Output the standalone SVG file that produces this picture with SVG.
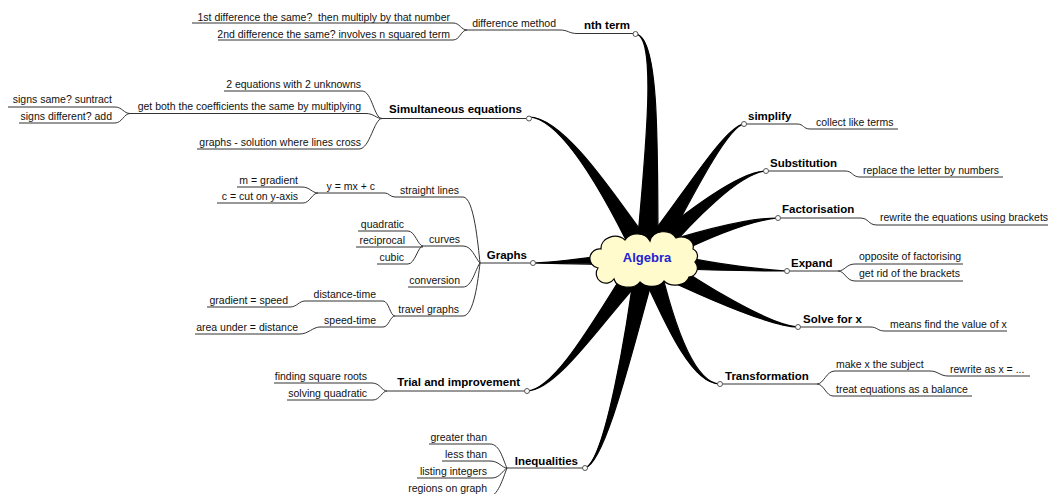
<svg xmlns="http://www.w3.org/2000/svg" width="1048" height="494" viewBox="0 0 1048 494">
<style>
.n{font-family:"Liberation Sans",Arial,sans-serif;font-size:11.5px;font-weight:bold;fill:#000}
.t{font-family:"Liberation Sans",Arial,sans-serif;font-size:10.5px;fill:#111}
.e{text-anchor:end}
.l{fill:none;stroke:#333;stroke-width:1}
.s{fill:#000;stroke:#000;stroke-width:1.2;stroke-linejoin:round}
.c{fill:#fff;stroke:#555;stroke-width:1}
</style>
<rect width="1048" height="494" fill="#fff"/>
<g id="connectors">
  <!-- tapered spokes -->
  <path class="s" d="M658 258.5 C658 130.2 658.2 33.8 635 34 C655.8 34.2 648 129.8 636 257.5 Z"/>
  <path class="s" d="M656.4 252.3 C619.3 202.5 565.9 117.2 529 117 C564.1 118.8 610.7 207.5 637.6 263.7 Z"/>
  <path class="s" d="M647 267.5 C610.2 263 560 264 533 263 C560 262 609.8 255 647 248.5 Z"/>
  <path class="s" d="M638.75 250.7 C605.8 297.25 559.1 389.2 527 391 C560.9 390.8 614.2 302.75 655.25 265.3 Z"/>
  <path class="s" d="M636.25 255.75 C627.1 329 604.9 461.6 585 468 C607.1 462.4 636.9 331 657.75 260.25 Z"/>
  <path class="s" d="M636.6 261.6 C660.3 311.6 689 384.7 720 384 C691 383.3 669.7 308.4 657.4 254.4 Z"/>
  <path class="s" d="M641.3 267.4 C697.6 294.4 769.6 327.1 798 327 C770.4 324.9 702.4 285.6 652.7 248.6 Z"/>
  <path class="s" d="M645.4 268 C689.5 269.5 749.9 271.2 787 271 C750.1 268.8 690.5 260.5 648.6 248 Z"/>
  <path class="s" d="M651 267.2 C701.6 239.2 750.3 220.2 778 218 C749.7 217.8 698.4 230.8 643 248.8 Z"/>
  <path class="s" d="M654.8 265.8 C693.4 218.7 740.6 173 766 171 C739.4 171 686.6 211.3 639.2 250.2 Z"/>
  <path class="s" d="M656.05 264.25 C684.3 212.55 726 126.7 744 124 C724 125.3 675.7 207.45 637.95 251.75 Z"/>
  <!-- nth term -->
  <path class="l" d="M577 33.5 H633"/>
  <path class="l" d="M467 30 H560 C568 30 569 33.5 577 33.5"/>
  <path class="l" d="M192 23 H453 C460 23 461 30 467 30"/>
  <path class="l" d="M218 40 H453 C460 40 461 30 467 30"/>
  <!-- simultaneous -->
  <path class="l" d="M382 118.5 H526.5"/>
  <path class="l" d="M224 91 H362 C372 91 374 118.5 382 118.5"/>
  <path class="l" d="M130 113.5 H366 C374 113.5 376 118.5 382 118.5"/>
  <path class="l" d="M197 149 H359 C370 149 374 118.5 382 118.5"/>
  <path class="l" d="M8 107 H115 C122 107 124 113.5 130 113.5"/>
  <path class="l" d="M19 123 H115 C122 123 124 113.5 130 113.5"/>
  <!-- graphs -->
  <path class="l" d="M480 263 H530.5"/>
  <path class="l" d="M318 193 H385 C389 193 390 197 395 197 H463 C474 197 478 245 480 263"/>
  <path class="l" d="M237 187 H302 C310 187 312 193 318 193"/>
  <path class="l" d="M217 203 H303 C310 203 312 193 318 193"/>
  <path class="l" d="M423 246 H463 C472 246 475 258 480 263"/>
  <path class="l" d="M358 231 H408 C415 231 418 246 423 246"/>
  <path class="l" d="M356 247 H423"/>
  <path class="l" d="M377 264 H408 C415 264 418 246 423 246"/>
  <path class="l" d="M408 287 H463 C472 287 475 270 480 263"/>
  <path class="l" d="M395 316 H463 C474 316 478 280 480 263"/>
  <path class="l" d="M305 301 H383 C389 301 390 316 395 316"/>
  <path class="l" d="M320 327 H383 C389 327 390 316 395 316"/>
  <path class="l" d="M207 307 H290 C297 307 299 301 305 301"/>
  <path class="l" d="M195 334 H300 C308 334 313 327 320 327"/>
  <!-- trial -->
  <path class="l" d="M387 391 H524.5"/>
  <path class="l" d="M274 383 H372 C380 383 382 391 387 391"/>
  <path class="l" d="M287 400 H373 C380 400 382 391 387 391"/>
  <!-- inequalities -->
  <path class="l" d="M507 468 H582.5"/>
  <path class="l" d="M429 444 H490 C500 444 503 460 507 468"/>
  <path class="l" d="M442 461 H490 C499 461 502 468 507 468"/>
  <path class="l" d="M417 478 H492 C500 478 503 470 507 468"/>
  <path class="l" d="M400 497 H488 C498 497 503 478 507 468"/>
  <!-- right side -->
  <path class="l" d="M746.5 124 H797 C804 124 803 129 810 129 H898"/>
  <path class="l" d="M768.5 171 H845 C853 171 852 177 860 177 H1003"/>
  <path class="l" d="M780.5 218 H860 C869 218 868 225 877 225 H1048"/>
  <path class="l" d="M789.5 271 H838"/>
  <path class="l" d="M838 271 C845 271 846 264 855 264 H963"/>
  <path class="l" d="M838 271 C845 271 846 281 855 281 H963"/>
  <path class="l" d="M800.5 327 H870 C878 327 877 331 885 331 H1007"/>
  <path class="l" d="M722.5 384 H817"/>
  <path class="l" d="M817 384 C824 384 826 371 835 371 H930 C938 371 940 376 948 376 H1030"/>
  <path class="l" d="M817 384 C824 384 826 396 833 396 H972"/>
</g>
<g id="algebra">
  <path d="M601 249 A14 12 0 0 1 625 240 A14 12 0 0 1 650 241 A14 12 0 0 1 676 238 A12 10 0 0 1 693 249 A8 8 0 0 1 695 262 A9 9 0 0 1 689 277 A14 10 0 0 1 664 281 A14 10 0 0 1 640 282 A14 10 0 0 1 614 279 A9 9 0 0 1 598 268 A8 8 0 0 1 601 249 Z" fill="#fffbcc" stroke="#000" stroke-width="1.2"/>
  <text x="647" y="262" text-anchor="middle" font-family="Liberation Sans, Arial, sans-serif" font-size="13" font-weight="bold" fill="#2323d2">Algebra</text>
</g>
<g id="nth-term">
  <circle class="c" cx="635.5" cy="34" r="2.5"/>
  <text class="n e" x="630" y="29">nth term</text>
  <text class="t e" x="556" y="27">difference method</text>
  <text class="t e" x="450" y="20.5" xml:space="preserve">1st difference the same?  then multiply by that number</text>
  <text class="t e" x="450" y="37.5">2nd difference the same? involves n squared term</text>
</g>
<g id="simultaneous">
  <circle class="c" cx="529" cy="118.5" r="2.5"/>
  <text class="n e" x="522" y="113">Simultaneous equations</text>
  <text class="t e" x="361" y="88">2 equations with 2 unknowns</text>
  <text class="t e" x="361" y="110">get both the coefficients the same by multiplying</text>
  <text class="t e" x="361" y="146">graphs - solution where lines cross</text>
  <text class="t e" x="112" y="103">signs same? suntract</text>
  <text class="t e" x="112" y="120">signs different? add</text>
</g>
<g id="graphs">
  <circle class="c" cx="533" cy="263" r="2.5"/>
  <text class="n e" x="527" y="259">Graphs</text>
  <text class="t e" x="459" y="194">straight lines</text>
  <text class="t e" x="375" y="190">y = mx + c</text>
  <text class="t e" x="298" y="184">m = gradient</text>
  <text class="t e" x="298" y="200">c = cut on y-axis</text>
  <text class="t e" x="460" y="243">curves</text>
  <text class="t e" x="404" y="228">quadratic</text>
  <text class="t e" x="405" y="244">reciprocal</text>
  <text class="t e" x="404" y="261">cubic</text>
  <text class="t e" x="460" y="284">conversion</text>
  <text class="t e" x="459" y="313">travel graphs</text>
  <text class="t e" x="376" y="298">distance-time</text>
  <text class="t e" x="288" y="304">gradient = speed</text>
  <text class="t e" x="376" y="324">speed-time</text>
  <text class="t e" x="298" y="331">area under = distance</text>
</g>
<g id="trial">
  <circle class="c" cx="527" cy="391" r="2.5"/>
  <text class="n e" x="520" y="386">Trial and improvement</text>
  <text class="t e" x="367" y="380">finding square roots</text>
  <text class="t e" x="367" y="397">solving quadratic</text>
</g>
<g id="inequalities">
  <circle class="c" cx="585" cy="468" r="2.5"/>
  <text class="n e" x="578" y="465">Inequalities</text>
  <text class="t e" x="487" y="441">greater than</text>
  <text class="t e" x="487" y="458">less than</text>
  <text class="t e" x="487" y="475">listing integers</text>
  <text class="t e" x="487" y="492">regions on graph</text>
</g>
<g id="simplify">
  <circle class="c" cx="744" cy="124" r="2.5"/>
  <text class="n" x="748" y="120">simplify</text>
  <text class="t" x="816" y="126">collect like terms</text>
</g>
<g id="substitution">
  <circle class="c" cx="766" cy="171" r="2.5"/>
  <text class="n" x="770" y="167">Substitution</text>
  <text class="t" x="863" y="174">replace the letter by numbers</text>
</g>
<g id="factorisation">
  <circle class="c" cx="778" cy="218" r="2.5"/>
  <text class="n" x="782" y="213">Factorisation</text>
  <text class="t" x="880" y="221">rewrite the equations using brackets</text>
</g>
<g id="expand">
  <circle class="c" cx="787" cy="271" r="2.5"/>
  <text class="n" x="791" y="267">Expand</text>
  <text class="t" x="859" y="260">opposite of factorising</text>
  <text class="t" x="859" y="277">get rid of the brackets</text>
</g>
<g id="solve">
  <circle class="c" cx="798" cy="327" r="2.5"/>
  <text class="n" x="803" y="323">Solve for x</text>
  <text class="t" x="890" y="328">means find the value of x</text>
</g>
<g id="transformation">
  <circle class="c" cx="720" cy="384" r="2.5"/>
  <text class="n" x="725" y="380">Transformation</text>
  <text class="t" x="836" y="368">make x the subject</text>
  <text class="t" x="950" y="373">rewrite as x = ...</text>
  <text class="t" x="836" y="393">treat equations as a balance</text>
</g>
</svg>
